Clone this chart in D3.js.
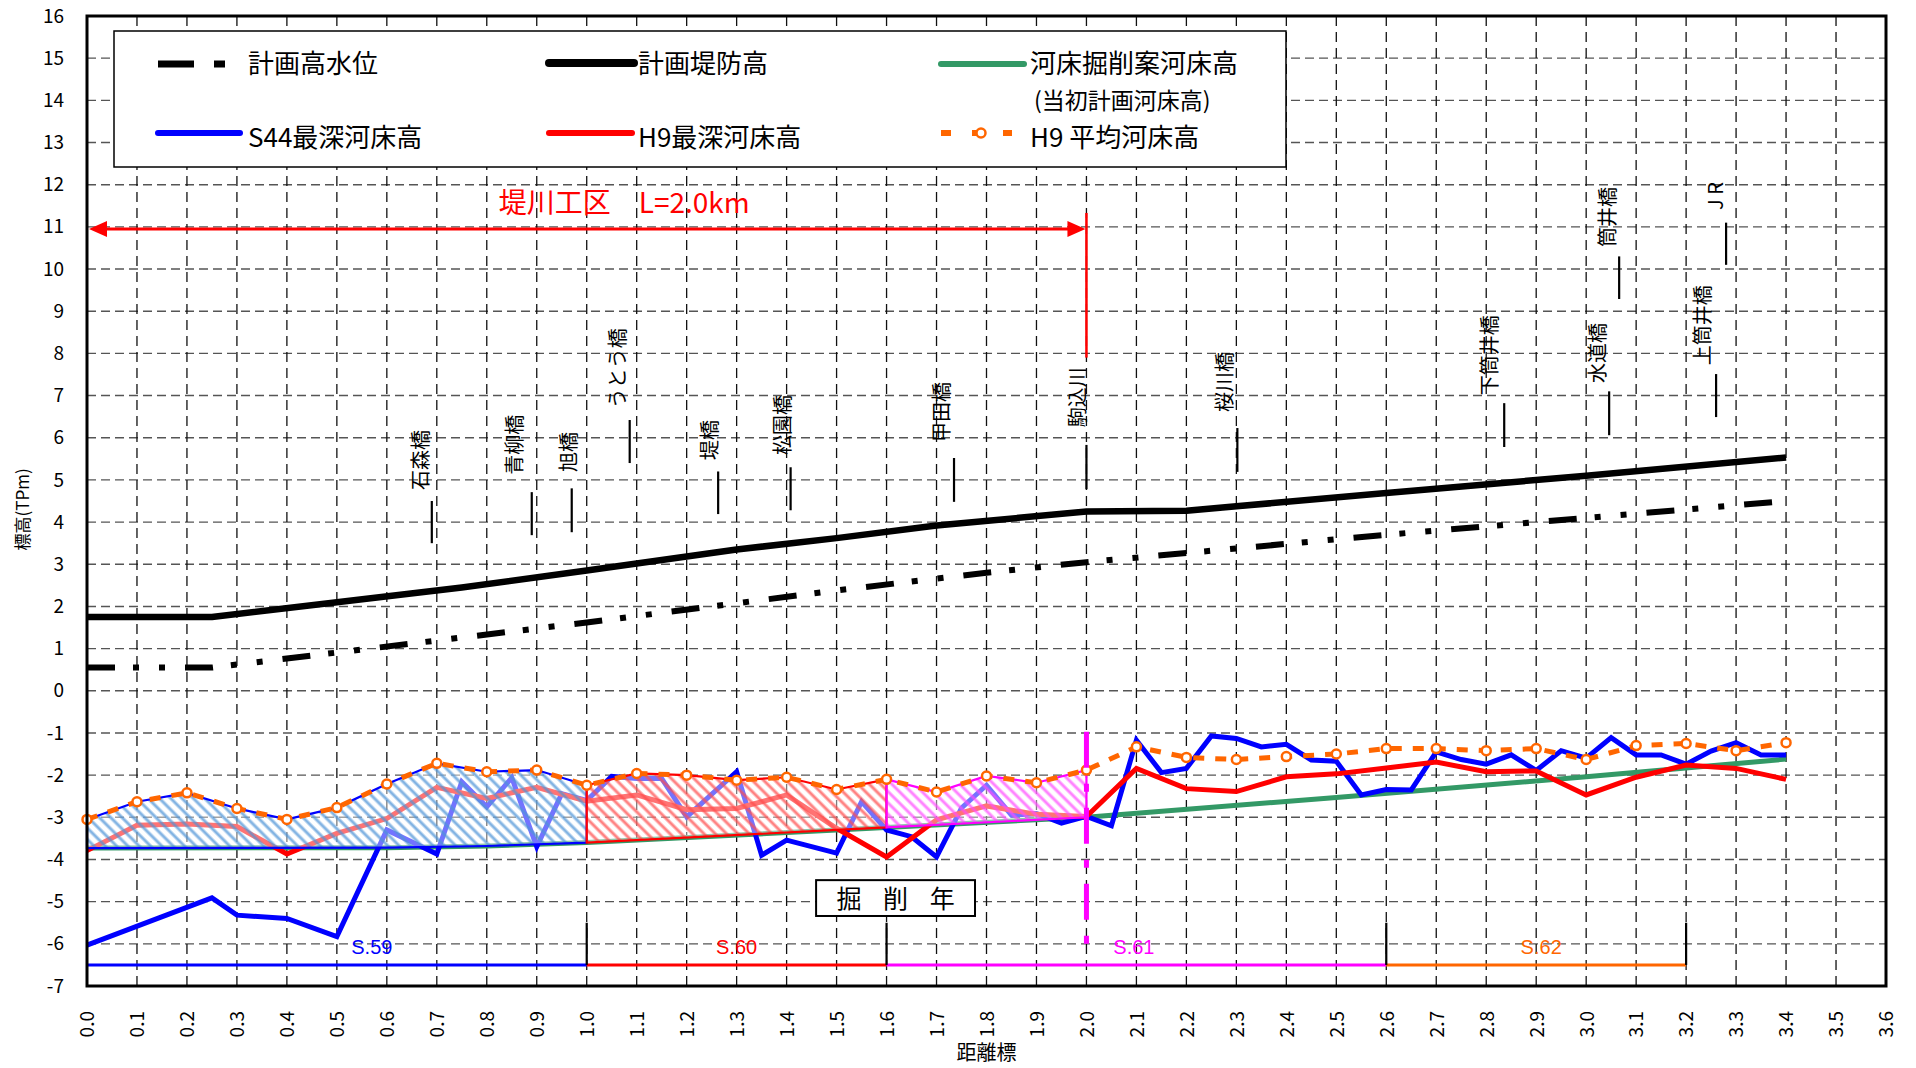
<!DOCTYPE html>
<html>
<head>
<meta charset="utf-8">
<script src="https://cdn.jsdelivr.net/npm/d3@7"></script>
<style>
body { margin: 0; background: #fff; }
text { font-family: "Noto Sans CJK JP", "Noto Sans", sans-serif; }
.num { font-family: "Liberation Sans", Arial, sans-serif; }
</style>
</head>
<body>
<div id="chart-area"></div>
<script>
// ---- data (km, elevation TPm) ----
var xTicks = [0.0,0.1,0.2,0.3,0.4,0.5,0.6,0.7,0.8,0.9,1.0,1.1,1.2,1.3,1.4,1.5,1.6,1.7,1.8,
              1.9,2.0,2.1,2.2,2.3,2.4,2.5,2.6,2.7,2.8,2.9,3.0,3.1,3.2,3.3,3.4,3.5,3.6];
var yTicks = [-7,-6,-5,-4,-3,-2,-1,0,1,2,3,4,5,6,7,8,9,10,11,12,13,14,15,16];

// 計画堤防高
var bankKm = [0, 0.25, 0.5, 0.75, 1.0, 1.3, 1.5, 1.7, 2.0, 2.2, 2.6, 3.0, 3.4];
var bankH  = [1.75, 1.75, 2.1, 2.45, 2.85, 3.35, 3.62, 3.92, 4.25, 4.27, 4.69, 5.1, 5.53];

// 計画高水位
var hwlKm = [0, 0.25, 1.0, 1.5, 1.8, 2.0, 2.6, 3.4];
var hwlH  = [0.55, 0.55, 1.62, 2.38, 2.8, 3.05, 3.7, 4.5];

// 河床掘削案河床高
var planKm = [0, 0.6, 0.8, 1.0, 1.5, 2.0, 2.5, 3.0, 3.4];
var planH  = [-3.73, -3.72, -3.68, -3.6, -3.3, -3.0, -2.53, -2.04, -1.62];

// S44最深河床高
var s44Km = [0, 0.25, 0.3, 0.4, 0.5, 0.6, 0.7, 0.75, 0.8, 0.85, 0.9, 0.95, 1.0, 1.05, 1.1, 1.15,
             1.2, 1.3, 1.35, 1.4, 1.5, 1.55, 1.6, 1.65, 1.7, 1.75, 1.8, 1.85, 1.9, 1.95, 2.0,
             2.05, 2.1, 2.15, 2.2, 2.25, 2.3, 2.35, 2.4, 2.45, 2.5, 2.55, 2.6, 2.65, 2.7, 2.75,
             2.8, 2.85, 2.9, 2.95, 3.0, 3.05, 3.1, 3.15, 3.2, 3.25, 3.3, 3.35, 3.4];
var s44H  = [-6.03, -4.91, -5.32, -5.4, -5.83, -3.3, -3.87, -2.16, -2.75, -2.06, -3.7, -2.44, -2.6,
             -2.03, -2.08, -2.08, -2.99, -1.92, -3.9, -3.54, -3.85, -2.63, -3.3, -3.46, -3.94,
             -2.78, -2.24, -2.95, -2.91, -3.14, -2.98, -3.2, -1.17, -1.94, -1.84, -1.07, -1.13,
             -1.33, -1.27, -1.64, -1.67, -2.47, -2.34, -2.35, -1.45, -1.63, -1.74, -1.52, -1.89,
             -1.42, -1.6, -1.11, -1.52, -1.52, -1.74, -1.43, -1.23, -1.52, -1.52];

// H9最深河床高 / H9 平均河床高 (0.1km)
var h9Km = [0.0,0.1,0.2,0.3,0.4,0.5,0.6,0.7,0.8,0.9,1.0,1.1,1.2,1.3,1.4,1.5,1.6,1.7,
            1.8,1.9,2.0,2.1,2.2,2.3,2.4,2.5,2.6,2.7,2.8,2.9,3.0,3.1,3.2,3.3,3.4];
var h9Deep = [-3.79, -3.19, -3.16, -3.22, -3.87, -3.38, -3.03, -2.29, -2.55, -2.29, -2.62, -2.47,
              -2.82, -2.79, -2.47, -3.26, -3.94, -3.06, -2.73, -2.93, -2.98, -1.84, -2.32, -2.39,
              -2.04, -1.97, -1.83, -1.69, -1.92, -1.9, -2.47, -2.05, -1.76, -1.84, -2.1];
var h9Avg  = [-3.05, -2.63, -2.42, -2.79, -3.05, -2.77, -2.21, -1.72, -1.92, -1.88, -2.24, -1.96,
              -2.0, -2.12, -2.05, -2.34, -2.1, -2.4, -2.02, -2.18, -1.88, -1.33, -1.58, -1.63,
              -1.56, -1.5, -1.37, -1.37, -1.42, -1.37, -1.63, -1.3, -1.25, -1.42, -1.23];

// 掘削年
var periodNames = ["S.59", "S.60", "S.61", "S.62"];
var periodFrom  = [0.0, 1.0, 1.6, 2.6];
var periodTo    = [1.0, 1.6, 2.6, 3.2];
var periodColor = ["#0000ff", "#ff0000", "#ff00ff", "#ff6600"];
var periodLabelKm = [0.57, 1.30, 2.095, 2.91];

// 掘削範囲 (hatched)
var cutFrom = [0.0, 1.0, 1.6];
var cutTo   = [1.0, 1.6, 2.0];
var cutColor = ["#0000ff", "#ff0000", "#ff00ff"];
var cutHatch = ["#4f95d8", "#ff4d4d", "#ff4dff"];

// 橋梁
var bridgeNames = ["石森橋","青柳橋","旭橋","うとう橋","堤橋","松園橋","甲田橋","駒込川",
                   "桜川橋","下筒井橋","水道橋","筒井橋","J R","上筒井橋"];
var bridgeKm    = [0.69, 0.89, 0.97, 1.086, 1.263, 1.408, 1.735, 2.0, 2.302, 2.836, 3.046, 3.066, 3.28, 3.26];
var bridgeTextKm= [0.668, 0.857, 0.965, 1.062, 1.247, 1.393, 1.711, 1.983, 2.277, 2.808, 3.024, 3.044, 3.26, 3.234];
var bridgeLo    = [3.5, 3.69, 3.76, 5.4, 4.19, 4.28, 4.48, 4.78, 5.19, 5.78, 6.06, 9.29, 10.1, 6.49];
var bridgeHi    = [4.5, 4.71, 4.8, 6.42, 5.2, 5.3, 5.52, 5.83, 6.23, 6.82, 7.1, 10.3, 11.1, 7.51];
var bridgeText  = [4.76, 5.12, 5.19, 6.7, 5.47, 5.59, 5.9, 6.25, 6.61, 7.01, 7.3, 10.52, 11.4, 7.72];

// ---- layout ----
var margin = { left: 87, right: 30, top: 16, bottom: 82 };
var W = 1916, H = 1068;
var width = W - margin.left - margin.right,
    height = H - margin.top - margin.bottom;

var svg = d3.select("#chart-area").append("svg")
    .attr("width", W)
    .attr("height", H);
var g = svg.append("g")
    .attr("transform", "translate(" + margin.left + "," + margin.top + ")");

var x = d3.scaleLinear().domain([0, 3.6]).range([0, width]);
var y = d3.scaleLinear().domain([-7, 16]).range([height, 0]);

function pts(k, v) { return k.map(function(d, i){ return [d, v[i]]; }); }
var line = d3.line().x(function(d){ return x(d[0]); }).y(function(d){ return y(d[1]); });

// hatch patterns
var defs = svg.append("defs");
cutHatch.forEach(function(c, i){
    var p = defs.append("pattern")
        .attr("id", "hatch" + i)
        .attr("patternUnits", "userSpaceOnUse")
        .attr("width", 8).attr("height", 8)
        .attr("patternTransform", "rotate(-45)");
    p.append("rect").attr("width", 8).attr("height", 8)
        .attr("fill", "#fff").attr("fill-opacity", 0.45);
    p.append("line").attr("x1", 2).attr("y1", 0).attr("x2", 2).attr("y2", 8)
        .attr("stroke", c).attr("stroke-width", 3).attr("stroke-opacity", 0.7);
});

// grid
g.append("g").selectAll("line").data(yTicks.slice(1, -1)).enter().append("line")
    .attr("x1", 0).attr("x2", width)
    .attr("y1", function(d){ return y(d); }).attr("y2", function(d){ return y(d); })
    .attr("stroke", "#555").attr("stroke-width", 1.4).attr("stroke-dasharray", "9,5");
g.append("g").selectAll("line").data(xTicks.slice(1, -1)).enter().append("line")
    .attr("y1", 0).attr("y2", height)
    .attr("x1", function(d){ return x(d); }).attr("x2", function(d){ return x(d); })
    .attr("stroke", "#111").attr("stroke-width", 1.3).attr("stroke-dasharray", "10,6");

// Axes labels
var yAxisCall = d3.axisLeft(y).tickValues(yTicks).tickSize(0).tickPadding(23)
    .tickFormat(function(d){ return d; });
g.append("g").attr("class", "num").call(yAxisCall)
    .call(function(a){ a.select(".domain").remove(); })
    .selectAll("text")
        .attr("font-size", "19px")
        .attr("font-family", "Liberation Sans, Arial, sans-serif")
        .attr("fill", "#000");

var xAxisCall = d3.axisBottom(x).tickValues(xTicks).tickSize(0).tickFormat(d3.format(".1f"));
g.append("g").attr("transform", "translate(0," + height + ")").call(xAxisCall)
    .call(function(a){ a.select(".domain").remove(); })
    .selectAll("text")
        .attr("font-size", "19px")
        .attr("font-family", "Liberation Sans, Arial, sans-serif")
        .attr("fill", "#000")
        .attr("x", -25).attr("y", 0).attr("dy", "0.36em")
        .attr("transform", "rotate(-90)")
        .style("text-anchor", "end");

g.append("text")
    .attr("x", x(1.8)).attr("y", height + 74)
    .attr("font-size", "20px").attr("text-anchor", "middle")
    .text("距離標");
g.append("text")
    .attr("transform", "translate(" + (-58) + "," + y(4.3) + ") rotate(-90)")
    .attr("font-size", "17px").attr("text-anchor", "middle")
    .text("標高(TPm)");

// lines
g.append("path").datum(pts(planKm, planH)).attr("d", line)
    .attr("fill", "none").attr("stroke", "#339966").attr("stroke-width", 5);
g.append("path").datum(pts(hwlKm, hwlH)).attr("d", line)
    .attr("fill", "none").attr("stroke", "#000").attr("stroke-width", 6)
    .attr("stroke-dasharray", "28,18,6,20,6,20");
g.append("path").datum(pts(bankKm, bankH)).attr("d", line)
    .attr("fill", "none").attr("stroke", "#000").attr("stroke-width", 6.5)
    .attr("stroke-linejoin", "round");
g.append("path").datum(pts(s44Km, s44H)).attr("d", line)
    .attr("fill", "none").attr("stroke", "#0000ff").attr("stroke-width", 5);
g.append("path").datum(pts(h9Km, h9Deep)).attr("d", line)
    .attr("fill", "none").attr("stroke", "#ff0000").attr("stroke-width", 5);

// excavation areas: between H9 average and plan bed
var planAt = d3.scaleLinear().domain(planKm).range(planH);
cutFrom.forEach(function(a, i){
    var b = cutTo[i];
    var top = pts(h9Km, h9Avg).filter(function(p){ return p[0] >= a - 1e-9 && p[0] <= b + 1e-9; });
    var mid = planKm.filter(function(k){ return k > a && k < b; }).reverse();
    var bottom = [b].concat(mid).concat([a]).map(function(k){ return [k, planAt(k)]; });
    var d = line(top.concat(bottom)) + "Z";
    g.append("path").attr("d", d).attr("fill", "url(#hatch" + i + ")");
    g.append("path").attr("d", d).attr("fill", "none")
        .attr("stroke", cutColor[i]).attr("stroke-width", 2.2);
});

// H9 average
g.append("path").datum(pts(h9Km, h9Avg)).attr("d", line)
    .attr("fill", "none").attr("stroke", "#ff6600").attr("stroke-width", 5)
    .attr("stroke-dasharray", "11,11");
g.append("g").selectAll("circle").data(pts(h9Km, h9Avg)).enter().append("circle")
    .attr("cx", function(d){ return x(d[0]); }).attr("cy", function(d){ return y(d[1]); })
    .attr("r", 4.5).attr("fill", "#fff").attr("stroke", "#ff6600").attr("stroke-width", 2.5);

// bridges
bridgeNames.forEach(function(name, i){
    g.append("line")
        .attr("x1", x(bridgeKm[i])).attr("x2", x(bridgeKm[i]))
        .attr("y1", y(bridgeLo[i])).attr("y2", y(bridgeHi[i]))
        .attr("stroke", "#000").attr("stroke-width", 2.2);
    g.append("text")
        .attr("transform", "translate(" + x(bridgeTextKm[i]) + "," + y(bridgeText[i]) + ") rotate(-90)")
        .attr("dy", "0.36em")
        .attr("font-size", "20px")
        .text(name);
});

// 堤川工区 arrow
g.append("line")
    .attr("x1", x(0) + 14).attr("x2", x(2.0) - 14)
    .attr("y1", y(10.95)).attr("y2", y(10.95))
    .attr("stroke", "#ff0000").attr("stroke-width", 3);
[[x(0) + 2, 1], [x(2.0) - 1, -1]].forEach(function(a){
    g.append("path")
        .attr("d", "M" + a[0] + "," + y(10.95) + "l" + (18 * a[1]) + ",-8v16z")
        .attr("fill", "#ff0000");
});
g.append("line")
    .attr("x1", x(2.0)).attr("x2", x(2.0))
    .attr("y1", y(11.33)).attr("y2", y(7.9))
    .attr("stroke", "#ff0000").attr("stroke-width", 2.5);
g.append("text")
    .attr("x", x(1.075)).attr("y", y(10.95) - 16)
    .attr("font-size", "28px").attr("fill", "#ff0000").attr("text-anchor", "middle")
    .text("堤川工区\u3000L=2.0km");

// magenta boundary
g.append("line")
    .attr("x1", x(2.0)).attr("x2", x(2.0))
    .attr("y1", y(-0.97)).attr("y2", y(-6.05))
    .attr("stroke", "#ff00ff").attr("stroke-width", 5)
    .attr("stroke-dasharray", "36,16,8,16");

// excavation years
periodNames.forEach(function(name, i){
    g.append("line")
        .attr("x1", x(periodFrom[i])).attr("x2", x(periodTo[i]))
        .attr("y1", y(-6.5)).attr("y2", y(-6.5))
        .attr("stroke", periodColor[i]).attr("stroke-width", 3);
    g.append("text").attr("class", "num")
        .attr("x", x(periodLabelKm[i])).attr("y", y(-6.08))
        .attr("dy", "0.36em")
        .attr("font-size", "20px").attr("text-anchor", "middle")
        .attr("fill", periodColor[i])
        .text(name);
});
periodTo.forEach(function(k){
    g.append("line")
        .attr("x1", x(k)).attr("x2", x(k))
        .attr("y1", y(-5.5)).attr("y2", y(-6.5))
        .attr("stroke", "#000").attr("stroke-width", 2.2);
});
g.append("rect")
    .attr("x", x(1.459)).attr("y", y(-4.49))
    .attr("width", x(1.777) - x(1.459)).attr("height", y(-5.34) - y(-4.49))
    .attr("fill", "#fff").attr("stroke", "#000").attr("stroke-width", 2);
g.append("text")
    .attr("x", x(1.618) + 4).attr("y", y(-4.915))
    .attr("dy", "0.38em")
    .attr("font-size", "25px").attr("text-anchor", "middle")
    .attr("letter-spacing", "8px")
    .text("掘 削 年");

// frame
g.append("rect")
    .attr("width", width).attr("height", height)
    .attr("fill", "none").attr("stroke", "#000").attr("stroke-width", 3);

// legend
var legend = svg.append("g");
legend.append("rect")
    .attr("x", 114).attr("y", 31).attr("width", 1172).attr("height", 136)
    .attr("fill", "#fff").attr("stroke", "#000").attr("stroke-width", 1.5);

var legendRows = [
    { x: 158, y: 64, len: 67, color: "#000", w: 7, dash: "36,20,11", cap: "butt", text: "計画高水位", ty: 73, tx: 248 },
    { x: 549, y: 63, len: 85, color: "#000", w: 8, dash: null, cap: "round", text: "計画堤防高", ty: 73, tx: 638 },
    { x: 941, y: 64, len: 83, color: "#339966", w: 6, dash: null, cap: "round", text: "河床掘削案河床高", ty: 73, tx: 1030 },
    { x: 158, y: 133, len: 82, color: "#0000ff", w: 6, dash: null, cap: "round", text: "S44最深河床高", ty: 147, tx: 248 },
    { x: 549, y: 133, len: 83, color: "#ff0000", w: 6, dash: null, cap: "round", text: "H9最深河床高", ty: 147, tx: 638 },
    { x: 941, y: 133, len: 71, color: "#ff6600", w: 6, dash: "10,21,10,21", cap: "butt", text: "H9 平均河床高", ty: 147, tx: 1030 }
];
legendRows.forEach(function(r){
    legend.append("line")
        .attr("x1", r.x).attr("x2", r.x + r.len)
        .attr("y1", r.y).attr("y2", r.y)
        .attr("stroke", r.color).attr("stroke-width", r.w)
        .attr("stroke-linecap", r.cap)
        .attr("stroke-dasharray", r.dash);
    legend.append("text")
        .attr("x", r.tx).attr("y", r.ty)
        .attr("font-size", "26px")
        .text(r.text);
});
legend.append("text")
    .attr("x", 1034).attr("y", 109)
    .attr("font-size", "23px")
    .text("(当初計画河床高)");
legend.append("circle")
    .attr("cx", 981).attr("cy", 133).attr("r", 4.5)
    .attr("fill", "#fff").attr("stroke", "#ff6600").attr("stroke-width", 2.5);
</script>
</body>
</html>
